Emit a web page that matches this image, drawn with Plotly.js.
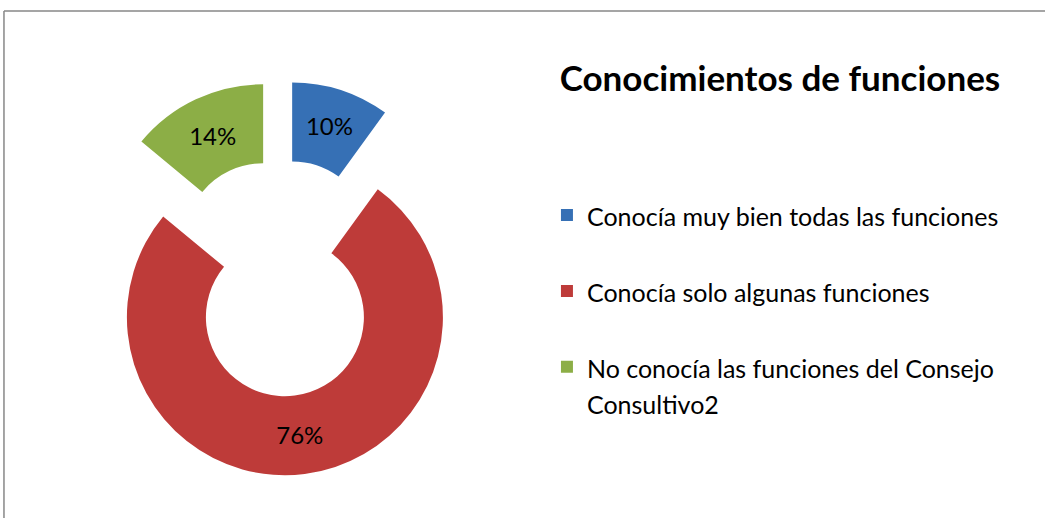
<!DOCTYPE html>
<html>
<head>
<meta charset="utf-8">
<script src="https://cdn.plot.ly/plotly-3.0.1.min.js"></script>
<style>html,body{margin:0;padding:0;background:#fff;}#chart{width:1045px;height:518px;}</style>
</head>
<body>
<div id="chart"></div>
<script>
const categories = [
  "Conocía muy bien todas las funciones",
  "Conocía solo algunas funciones",
  "No conocía las funciones del Consejo Consultivo2"
];
const values = [10, 76, 14];
const sliceColors = ["#3670B5", "#BE3B39", "#8CAE46"];
const chartTitle = "Conocimientos de funciones";

// legend labels: wrap long text, add a spacer line for row spacing
function legendLabel(s) {
  let t = s.replace(" Consultivo2", "<br>Consultivo2");
  t = "<span style='font-size:25px'>" + t.split("<br>").join("</span><br><span style='font-size:25px'>") + "</span>";
  if (!t.includes("<br>")) t += "<br> ";
  return t;
}
const labels = categories.map(legendLabel);

const trace = {
  type: "pie",
  labels: labels,
  values: values,
  customdata: categories,
  sort: false,
  direction: "clockwise",
  rotation: 0,
  hole: 0.5,
  pull: [0.25, 0.25, 0.25],
  marker: { colors: sliceColors, line: { width: 0 } },
  textinfo: "percent",
  textposition: "inside",
  insidetextorientation: "horizontal",
  textfont: { family: "Lato, sans-serif", size: 24, color: "#000000" },
  hovertemplate: "%{customdata}: %{percent}<extra></extra>",
  domain: { x: [0.0789, 0.4569], y: [0.0820, 0.8446] }
};

const layout = {
  width: 1045, height: 518,
  margin: { l: 0, r: 0, t: 0, b: 0 },
  paper_bgcolor: "#ffffff",
  plot_bgcolor: "#ffffff",
  font: { family: "Lato, sans-serif", color: "#000000" },
  title: {
    text: "<b>" + chartTitle + "</b>",
    font: { family: "Lato, sans-serif", size: 35, color: "#000000" },
    x: 0.7464, xref: "container", xanchor: "center",
    y: 0.8475, yref: "container", yanchor: "middle"
  },
  showlegend: true,
  legend: {
    x: 0.5234, xanchor: "left",
    y: 0.6324, yanchor: "top",
    valign: "top",
    font: { family: "Lato, sans-serif", size: 28, color: "#000000" },
    bgcolor: "rgba(0,0,0,0)"
  },
  shapes: [
    { type: "line", xref: "paper", yref: "paper", x0: 0.0038, x1: 1, y0: 0.979, y1: 0.979, line: { color: "#878787", width: 1.5 } },
    { type: "line", xref: "paper", yref: "paper", x0: 0.0038, x1: 0.0038, y0: 0, y1: 0.979, line: { color: "#878787", width: 1.5 } }
  ]
};

Plotly.newPlot("chart", [trace], layout, { displayModeBar: false, responsive: false });
</script>
</body>
</html>
